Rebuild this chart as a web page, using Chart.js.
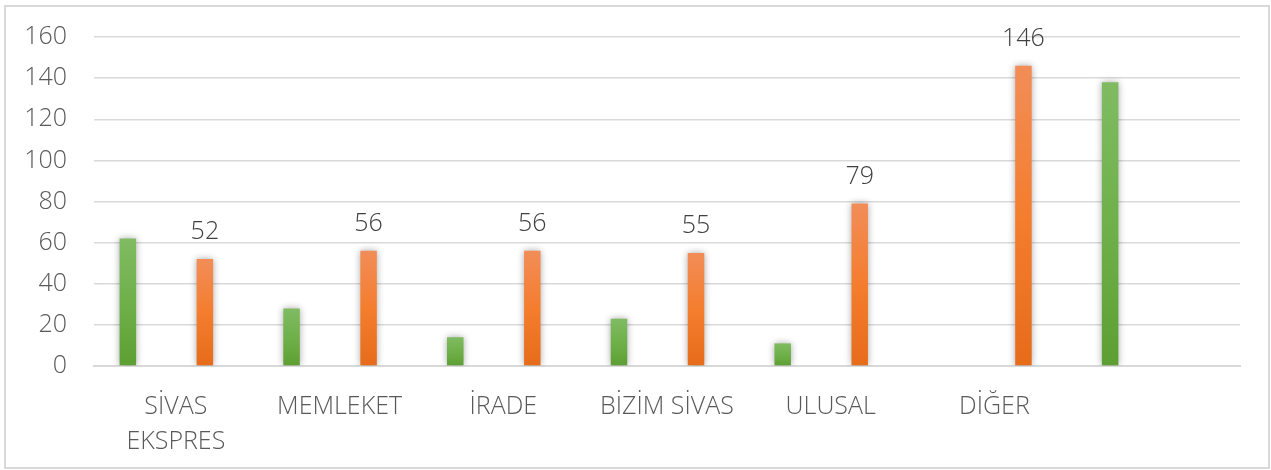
<!DOCTYPE html>
<html>
<head>
<meta charset="utf-8">
<script src="https://cdn.jsdelivr.net/npm/chart.js@4/dist/chart.umd.min.js"></script>
<style>
  html, body { margin: 0; padding: 0; background: #fff; }
  #wrap { position: relative; width: 1271px; height: 470px; }
  #frame { position: absolute; left: 4px; top: 5px; width: 1262px; height: 460px; border: 2px solid #d9d9d9; pointer-events: none; }
  canvas { position: absolute; left: 0; top: 0; }
</style>
</head>
<body>
<div id="wrap">
  <canvas id="myChart" width="1271" height="470"></canvas>
  <div id="frame"></div>
</div>
<script>
// categories (last one has no label in the original)
const kategoriler = [['SİVAS', 'EKSPRES'], 'MEMLEKET', 'İRADE', 'BİZİM SİVAS', 'ULUSAL', 'DİĞER', ''];
const yesil = [62, 28, 14, 23, 11, null, 138];
const turuncu = [52, 56, 56, 55, 79, 146, null];
const yTicks = [0, 20, 40, 60, 80, 100, 120, 140, 160];

const fontAd = '"Open Sans", "DejaVu Sans", sans-serif';

// vertical gradient for each bar, light at top, dark at bottom
function gradyan(ust, orta, alt) {
    return function (c) {
        const chart = c.chart;
        if (!chart.chartArea || c.parsed == null || c.parsed.y == null) return alt;
        const y = chart.scales.y;
        const top = y.getPixelForValue(c.parsed.y);
        const bottom = y.getPixelForValue(0);
        if (!isFinite(top) || !isFinite(bottom) || top === bottom) return alt;
        const g = chart.ctx.createLinearGradient(0, top, 0, bottom);
        g.addColorStop(0, ust);
        g.addColorStop(0.5, orta);
        g.addColorStop(1, alt);
        return g;
    };
}

// soft shadow round the bars
const golge = {
    id: 'golge',
    beforeDatasetsDraw(chart) {
        const ctx = chart.ctx;
        ctx.save();
        ctx.shadowColor = 'rgba(0,0,0,0.35)';
        ctx.shadowBlur = 7;
        ctx.shadowOffsetX = 0;
        ctx.shadowOffsetY = 0;
    },
    afterDatasetsDraw(chart) {
        chart.ctx.restore();
    }
};

// value labels over the orange bars
const etiketler = {
    id: 'etiketler',
    afterDatasetsDraw(chart) {
        const ctx = chart.ctx;
        const meta = chart.getDatasetMeta(1);
        ctx.save();
        ctx.font = '300 25px ' + fontAd;
        ctx.fillStyle = '#404040';
        ctx.textAlign = 'center';
        ctx.textBaseline = 'alphabetic';
        meta.data.forEach(function (bar, i) {
            const v = turuncu[i];
            if (v == null) return;
            ctx.fillText(String(v), bar.x, bar.y - 20);
        });
        ctx.restore();
    }
};

const ctx = document.getElementById('myChart');
new Chart(ctx, {
    type: 'bar',
    data: {
        labels: kategoriler,
        datasets: [{
            label: 'yesil',
            data: yesil,
            backgroundColor: gradyan('#80bb62', '#6fb04a', '#5e9f33'),
            // uneven group: green sits further left of the category centre
            categoryPercentage: 1.173,
            barPercentage: 0.172
        }, {
            label: 'turuncu',
            data: turuncu,
            backgroundColor: gradyan('#f28d58', '#f47d2e', '#e66c1a'),
            categoryPercentage: 0.709,
            barPercentage: 0.284
        }]
    },
    options: {
        responsive: false,
        animation: false,
        layout: { padding: { top: 37, right: 31, bottom: 0, left: 0 } },
        plugins: {
            legend: { display: false },
            tooltip: { enabled: false }
        },
        scales: {
            x: {
                grid: { display: false, drawTicks: false },
                border: { display: true, color: '#d9d9d9', width: 2 },
                ticks: {
                    color: '#595959',
                    font: { family: fontAd, size: 25, weight: 300, lineHeight: 1.4 },
                    padding: 23,
                    maxRotation: 0,
                    autoSkip: false
                },
                afterFit(s) { s.height = 104; }
            },
            y: {
                min: 0,
                max: 160,
                afterBuildTicks(s) { s.ticks = yTicks.map(v => ({ value: v })); },
                grid: { color: '#d9d9d9', lineWidth: 1.5, drawTicks: false },
                border: { display: false },
                ticks: {
                    color: '#595959',
                    font: { family: fontAd, size: 25, weight: 300 },
                    padding: 27
                },
                afterFit(s) {
                    s.width = 94;
                    s.paddingTop = 0;
                    s.paddingBottom = 0;
                }
            }
        }
    },
    plugins: [golge, etiketler]
});
</script>
</body>
</html>
